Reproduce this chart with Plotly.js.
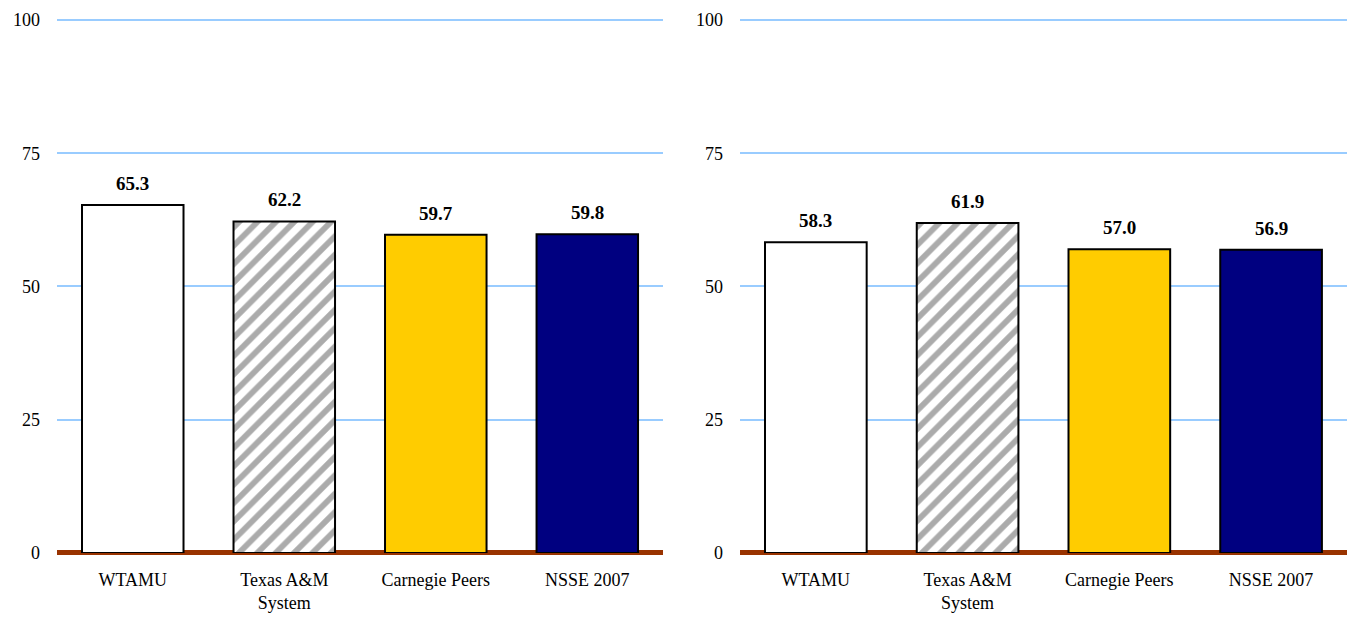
<!DOCTYPE html>
<html><head><meta charset="utf-8">
<script src="https://cdn.plot.ly/plotly-3.0.1.min.js"></script>
<style>html,body{margin:0;padding:0;background:#fff}#chart{width:1354px;height:618px}</style>
</head><body><div id="chart"></div>
<script>
const categories = ["WTAMU", "Texas A&M<br>System", "Carnegie Peers", "NSSE 2007"];
const leftValues = [65.3, 62.2, 59.7, 59.8];
const rightValues = [58.3, 61.9, 57.0, 56.9];
const yTicks = [0, 25, 50, 75, 100];

const fills = ["#FFFFFF", "#FFFFFF", "#FFCC00", "#000080"];
const patternShapes = ["", "/", "", ""];
const serif = "Liberation Serif, DejaVu Serif, Times New Roman, serif";

function barTrace(vals, xa, ya) {
  return {
    type: "bar", x: categories, y: vals, xaxis: xa, yaxis: ya,
    marker: {
      color: fills,
      line: {color: "#000000", width: 2},
      pattern: {
        shape: patternShapes,
        fillmode: "overlay",
        fgcolor: "#000000",
        fgopacity: 0.45,
        size: 13,
        solidity: 0.45
      }
    },
    hoverinfo: "none", showlegend: false
  };
}

function labels(vals, xa, ya) {
  return vals.map((v, i) => ({
    x: categories[i], y: v, xref: xa, yref: ya,
    text: "<b>" + v.toFixed(1) + "</b>", showarrow: false,
    yanchor: "bottom", yshift: 9,
    font: {family: serif, size: 19, color: "#000000"}
  }));
}

const yAxisBase = {
  range: [0, 100.4], tickvals: yTicks, ticktext: yTicks.map(String),
  showgrid: true, gridcolor: "#99CCFF", gridwidth: 2,
  zeroline: true, zerolinecolor: "#993300", zerolinewidth: 5,
  showline: false, ticks: "", ticklabelstandoff: 16,
  tickfont: {family: serif, size: 18, color: "#000000"},
  domain: [0.1052, 0.9711], fixedrange: true
};
const xAxisBase = {
  showgrid: false, showline: false, ticks: "", zeroline: false,
  ticklabelstandoff: 14,
  tickfont: {family: serif, size: 18, color: "#000000"},
  fixedrange: true
};

const layout = {
  width: 1354, height: 618,
  margin: {l: 0, r: 0, t: 0, b: 0},
  paper_bgcolor: "#FFFFFF", plot_bgcolor: "#FFFFFF",
  bargap: 0.33,
  xaxis: Object.assign({}, xAxisBase, {domain: [0.0421, 0.4897], anchor: "y"}),
  yaxis: Object.assign({}, yAxisBase, {anchor: "x"}),
  xaxis2: Object.assign({}, xAxisBase, {domain: [0.5465, 0.9948], anchor: "y2"}),
  yaxis2: Object.assign({}, yAxisBase, {anchor: "x2"}),
  annotations: labels(leftValues, "x", "y").concat(labels(rightValues, "x2", "y2"))
};

Plotly.newPlot("chart", [barTrace(leftValues, "x", "y"), barTrace(rightValues, "x2", "y2")], layout, {staticPlot: true});
</script></body></html>
